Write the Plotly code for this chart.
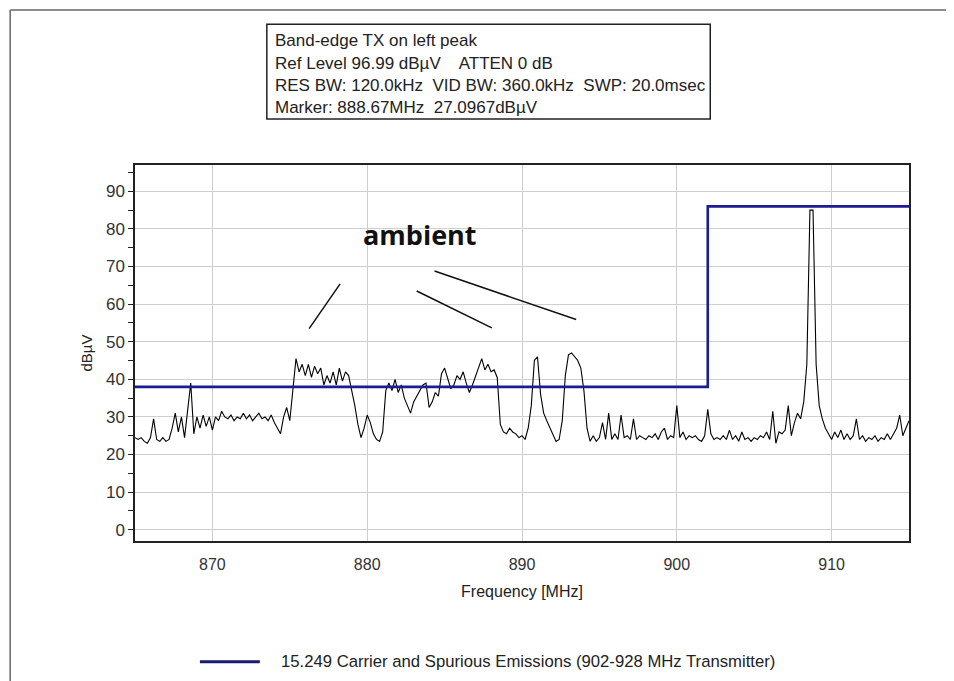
import numpy as np
import plotly.graph_objects as go

# ---- data ----
freq_start = 865.0
freq_step = 0.2
# measured trace (dBuV), one row per MHz, 0.2 MHz steps
level = [
    24.5, 24, 24.5, 23.5, 23,      # 865
    24.5, 29.5, 24, 23.5, 24.5,    # 866
    23.5, 24, 27, 31, 26,          # 867
    30, 24.5, 32, 39, 25.5,        # 868
    30, 27, 30.5, 27.5, 30,        # 869
    26.5, 30, 29, 31.5, 30,        # 870
    29.5, 30.5, 29, 30, 29.5,      # 871
    31, 29.5, 30.5, 29, 30,        # 872
    31, 29.5, 30, 29, 30.5,        # 873
    28.5, 27, 25.5, 30, 32.5,      # 874
    29, 37, 45.5, 42, 44,          # 875
    41, 44, 40.5, 43.5, 41.5,      # 876
    43, 38.5, 41, 39, 42,          # 877
    38.5, 43, 39.5, 42, 41,        # 878
    37, 33, 28, 24.5, 27,          # 879
    30.5, 28.5, 25.5, 24, 23.5,    # 880
    26, 37, 39, 37, 40,            # 881
    36.5, 38.5, 35, 33, 31,        # 882
    34, 35.5, 37, 38.5, 39,        # 883
    32.5, 34, 36.5, 35.5, 41.5,    # 884
    43, 40, 37.5, 38.5, 41,        # 885
    40, 42, 39, 36.5, 38.5,        # 886
    41, 43, 45.5, 42.5, 44,        # 887
    42, 42.5, 40.5, 28, 26,        # 888
    25.5, 27, 26, 25.5, 24.5,      # 889
    25, 24, 27, 33, 45,            # 890
    46, 36, 31, 29, 27,            # 891
    25, 23.5, 24, 29, 41,          # 892
    46.5, 47, 46, 45, 43,          # 893
    37, 27, 23.5, 25, 23.5,        # 894
    24.5, 28.5, 24, 31, 24,        # 895
    25.5, 24, 30.5, 24.5, 25,      # 896
    24, 29.5, 24, 25, 24.5,        # 897
    24, 25, 24.5, 25.5, 24,        # 898
    26, 27, 24, 25, 24.5,          # 899
    33, 24.5, 26, 24, 25,          # 900
    24.5, 25, 24, 23.5, 25,        # 901
    32, 25.5, 24, 24.5, 24,        # 902
    25, 24, 26.5, 24, 25,          # 903
    23.5, 26, 24, 24.5, 23.5,      # 904
    24.5, 24, 25, 24.5, 26,        # 905
    24, 31.5, 23, 26, 25.5,        # 906
    26.5, 33, 25, 28.5, 31,        # 907
    29.5, 34, 44, 85, 85,          # 908
    44, 33, 29.5, 27, 25.5,        # 909
    24, 26, 24.5, 26.5, 24,        # 910
    25.5, 24, 25, 29.5, 24,        # 911
    25, 23.5, 24.5, 24, 25,        # 912
    23.5, 24.5, 24, 25.5, 24,      # 913
    25.5, 27, 30.5, 25, 27,        # 914
    29,                            # 915
]
freq = freq_start + freq_step * np.arange(len(level))

limit_freq = [865, 902, 902, 915]
limit_level = [38, 38, 86, 86]
limit_name = "15.249 Carrier and Spurious Emissions (902-928 MHz Transmitter)"

header_lines = [
    "Band-edge TX on left peak",
    "Ref Level 96.99 dBµV    ATTEN 0 dB",
    "RES BW: 120.0kHz  VID BW: 360.0kHz  SWP: 20.0msec",
    "Marker: 888.67MHz  27.0967dBµV",
]
x_ticks = [870, 880, 890, 900, 910]
y_ticks = [0, 10, 20, 30, 40, 50, 60, 70, 80, 90]

# ---- layout geometry (pixels, in screenshot coordinates) ----
OFF = 6.5                    # page body offset seen in the screenshot
W, H = 946, 673
L, R, T, B = 133, 908, 163, 540
def px(xp):
    return (xp - L) / (R - L)
def py(yp):
    return (B - yp) / (B - T)

FONT = "Liberation Sans, Arial, sans-serif"
grid = "#cfcfcf"
navy = "#1c1c94"
legend_navy = "#1a1a70"

fig = go.Figure()
fig.add_trace(go.Scatter(x=freq, y=level, mode="lines",
                         line=dict(color="black", width=1.1),
                         showlegend=False, hoverinfo="x+y"))
fig.add_trace(go.Scatter(x=limit_freq, y=limit_level, mode="lines",
                         line=dict(color=navy, width=2.6),
                         name=limit_name, showlegend=False))

yr = [-3, 97]
zero_pos = (0 - yr[0]) / (yr[1] - yr[0])

fig.update_layout(
    width=W, height=H,
    margin=dict(l=L - OFF, r=W - (R - OFF), t=T - OFF, b=H - (B - OFF), pad=0),
    paper_bgcolor="white", plot_bgcolor="white",
    font=dict(family=FONT, size=16, color="#222"),
    xaxis=dict(range=[865, 915], tickvals=x_ticks, showgrid=True,
               gridcolor=grid, gridwidth=1, zeroline=False,
               showline=True, mirror=True, linecolor="#222", linewidth=1.5,
               ticks="", ticklabelstandoff=8,
               tickfont=dict(size=16, family=FONT, color="#333"),
               title=dict(text="Frequency [MHz]", standoff=14,
                          font=dict(size=16, family=FONT, color="#222"))),
    xaxis2=dict(range=[865, 915], overlaying="x", anchor="free",
                position=zero_pos, dtick=5, tick0=865, ticks="outside",
                ticklen=5, tickcolor="#222", showticklabels=False,
                showgrid=False, zeroline=False, showline=True,
                linecolor="#222", linewidth=1.5),
    xaxis3=dict(range=[865, 915], overlaying="x", anchor="free",
                position=zero_pos, dtick=5, tick0=865, ticks="inside",
                ticklen=5, tickcolor="#222", showticklabels=False,
                showgrid=False, zeroline=False, showline=False),
    yaxis=dict(range=yr, tickvals=y_ticks, showgrid=True, gridcolor=grid,
               gridwidth=1, zeroline=False, showline=True, mirror=True,
               linecolor="#222", linewidth=1.5, ticks="outside",
               ticklen=5, tickcolor="#222", ticklabelstandoff=0,
               minor=dict(dtick=5, tick0=0, ticks="outside", ticklen=5,
                          tickcolor="#222", showgrid=False),
               tickfont=dict(size=17, family=FONT, color="#333"),
               title=dict(text="dBµV", standoff=10,
                          font=dict(size=15, family=FONT, color="#222"))),
    yaxis2=dict(range=yr, overlaying="y", anchor="x", side="left",
                dtick=5, tick0=0, ticks="inside", ticklen=4,
                tickcolor="#222", showticklabels=False, showgrid=False,
                zeroline=False, showline=False),
    showlegend=False,
)

shapes = []
# outer image frame (top and left edges)
shapes.append(dict(type="line", xref="paper", yref="paper",
                   x0=px(8), x1=px(960), y0=py(7.5), y1=py(7.5),
                   line=dict(color="#666", width=1.5)))
shapes.append(dict(type="line", xref="paper", yref="paper",
                   x0=px(8), x1=px(8), y0=py(7.5), y1=py(700),
                   line=dict(color="#666", width=1.5)))
# header box
shapes.append(dict(type="rect", xref="paper", yref="paper",
                   x0=px(265), x1=px(709), y0=py(22), y1=py(117),
                   line=dict(color="#222", width=1.5), fillcolor="white"))
# legend sample line
shapes.append(dict(type="line", xref="paper", yref="paper",
                   x0=px(198), x1=px(258), y0=py(661), y1=py(661),
                   line=dict(color=legend_navy, width=3)))
# "ambient" pointer lines
for (x0, y0, x1, y1) in [(876.25, 53.5, 878.25, 65.4),
                         (883.2, 63.5, 888.05, 53.7),
                         (884.35, 68.8, 893.5, 55.9)]:
    shapes.append(dict(type="line", xref="x", yref="y",
                       x0=x0, y0=y0, x1=x1, y1=y1,
                       line=dict(color="#111", width=1.5)))
fig.update_layout(shapes=shapes)

annotations = []
for i, txt in enumerate(header_lines):
    annotations.append(dict(text=txt, xref="paper", yref="paper",
                            x=px(271), y=py(38.5 + 22.4 * i),
                            xanchor="left", yanchor="middle",
                            showarrow=False,
                            font=dict(size=17, family=FONT, color="#222")))
annotations.append(dict(text=limit_name, xref="paper", yref="paper",
                        x=px(277), y=py(661), xanchor="left",
                        yanchor="middle", showarrow=False,
                        font=dict(size=16.7, family=FONT, color="#222")))
annotations.append(dict(text="<b>ambient</b>", xref="x", yref="y",
                        x=883.4, y=78.6, xanchor="center", yanchor="middle",
                        showarrow=False,
                        font=dict(size=27, family="Open Sans, sans-serif",
                                  color="#111")))
fig.update_layout(annotations=annotations)

fig.write_html("out.html")
